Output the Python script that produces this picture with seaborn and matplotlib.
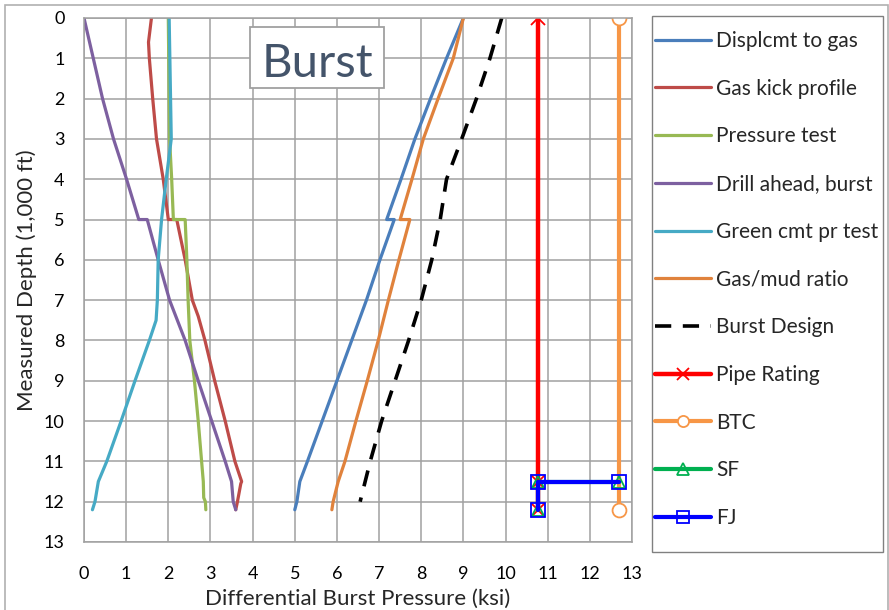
import numpy as np
import pandas as pd
import matplotlib
matplotlib.use('Agg')
import matplotlib.pyplot as plt
from matplotlib.patches import Rectangle
import seaborn as sns

sns.set_style('white')
plt.rcParams['font.family'] = ['Lato', 'DejaVu Sans']

# depth in 1,000 ft, pressure in ksi
displ_depth = [0, 1, 2, 3, 4, 5, 5, 6, 7, 8, 9, 10, 11, 11.5, 12, 12.2]
displ_p = [9.0, 8.6, 8.22, 7.85, 7.52, 7.18, 7.36, 7.02, 6.7, 6.35, 6.0, 5.65, 5.3, 5.12, 5.05, 5.0]

kick_depth = [0, 0.6, 1, 2, 3, 4, 5, 5, 6, 7, 7.4, 8, 9, 10, 11, 11.5, 11.55, 12, 12.2]
kick_p = [1.6, 1.53, 1.55, 1.63, 1.72, 1.88, 2.0, 2.2, 2.4, 2.57, 2.71, 2.87, 3.1, 3.35, 3.58, 3.74, 3.72, 3.64, 3.6]

ptest_depth = [0, 3, 4, 5, 5, 6, 7, 8, 9, 10, 11, 11.5, 11.9, 12, 12.2]
ptest_p = [2.0, 2.03, 2.08, 2.12, 2.4, 2.44, 2.47, 2.51, 2.62, 2.71, 2.79, 2.83, 2.84, 2.88, 2.89]

drill_depth = [0, 1, 2, 3, 4, 5, 5, 6, 7, 8, 9, 10, 11, 11.5, 12, 12.2]
drill_p = [0.0, 0.22, 0.44, 0.7, 1.01, 1.3, 1.5, 1.76, 2.03, 2.4, 2.71, 3.03, 3.35, 3.5, 3.54, 3.6]

green_depth = [0, 3, 4, 5, 6, 7, 7.5, 8, 9, 10, 11, 11.5, 12, 12.2]
green_p = [2.02, 2.07, 1.95, 1.84, 1.76, 1.74, 1.71, 1.55, 1.21, 0.88, 0.54, 0.34, 0.26, 0.2]

gasmud_depth = [0, 1, 2, 3, 4, 5, 5, 6, 7, 8, 9, 10, 11, 11.5, 12, 12.2]
gasmud_p = [9.0, 8.76, 8.4, 8.05, 7.78, 7.5, 7.73, 7.47, 7.22, 6.98, 6.72, 6.45, 6.19, 6.03, 5.91, 5.88]

design_depth = [0, 1, 2, 3, 4, 5, 6, 7, 8, 9, 10, 11, 12]
design_p = [9.91, 9.63, 9.31, 8.96, 8.6, 8.45, 8.25, 8.0, 7.7, 7.38, 7.06, 6.79, 6.55]

rating_depth = [0, 11.5, 12.2]
rating_p = [10.78, 10.78, 10.78]

btc_depth = [0, 12.2]
btc_p = [12.7, 12.7]

sf_depth = [11.5, 11.5, 12.2]
sf_p = [12.7, 10.78, 10.78]

fj_depth = [11.5, 11.5, 12.2]
fj_p = [12.7, 10.78, 10.78]

W, H = 889, 610
fig = plt.figure(figsize=(W / 100, H / 100), dpi=100)
ax = fig.add_axes([84 / W, 68 / H, 548 / W, 524 / H])

curves = [
    ('Displcmt to gas', displ_p, displ_depth, '#4A7EBB'),
    ('Gas kick profile', kick_p, kick_depth, '#BE4B48'),
    ('Pressure test', ptest_p, ptest_depth, '#98B954'),
    ('Drill ahead, burst', drill_p, drill_depth, '#7D60A0'),
    ('Green cmt pr test', green_p, green_depth, '#46AAC5'),
    ('Gas/mud ratio', gasmud_p, gasmud_depth, '#E0823C'),
]
for name, xs, ys, col in curves:
    sns.lineplot(x=xs, y=ys, sort=False, estimator=None, color=col, lw=2.3,
                 label=name, ax=ax)

sns.lineplot(x=design_p, y=design_depth, sort=False, estimator=None, color='black',
             lw=2.6, label='Burst Design', ax=ax)
ax.lines[-1].set_dashes([4.5, 3.2])

sns.lineplot(x=rating_p, y=rating_depth, sort=False, estimator=None, color='#FF0000',
             lw=3.2, marker='x', markersize=10, mec='#FF0000', mew=1.3,
             label='Pipe Rating', ax=ax)
sns.lineplot(x=btc_p, y=btc_depth, sort=False, estimator=None, color='#F79646',
             lw=3, marker='o', markersize=10, mfc='white', mec='#F79646', mew=1.3,
             label='BTC', ax=ax)
sns.lineplot(x=sf_p, y=sf_depth, sort=False, estimator=None, color='#00B050',
             lw=3, marker='^', markersize=9, mfc='none', mec='#00B050', mew=1.3,
             label='SF', ax=ax)
sns.lineplot(x=fj_p, y=fj_depth, sort=False, estimator=None, color='#0000FF',
             lw=3, marker='s', markersize=10, mfc='none', mec='#0000FF', mew=1.3,
             label='FJ', ax=ax)

ax.set_xlim(0, 13)
ax.set_ylim(13, 0)
ax.set_xticks(range(0, 14))
ax.set_yticks(range(0, 14))
ax.grid(True, color='#A0A0A0', lw=1.1)
ax.set_axisbelow(True)
for s in ax.spines.values():
    s.set_color('#A0A0A0')
    s.set_linewidth(1.1)
ax.tick_params(axis='both', labelsize=13, length=5, width=1.1, color='#A0A0A0',
               labelcolor='black')
ax.tick_params(axis='x', pad=12)
ax.tick_params(axis='y', pad=9)
ax.set_xlabel('Differential Burst Pressure (ksi)', fontsize=16, labelpad=5)
ax.set_ylabel('Measured Depth (1,000 ft)', fontsize=16, labelpad=5)

# "Burst" label box
ax.add_patch(Rectangle((3.94, 0.22), 3.18, 1.52, fc='white', ec='#A0A0A0', lw=1.3, zorder=5))
ax.text(5.53, 1.46, 'Burst', fontsize=34, color='#44546A', ha='center', va='baseline',
        zorder=6)

handles, labels = ax.get_legend_handles_labels()
ax.get_legend().remove()
leg = fig.legend(handles, labels, loc='upper left', bbox_to_anchor=(655 / W, 1 - 31 / H),
                 fontsize=15, frameon=False, labelspacing=1.33, handlelength=2.7,
                 handletextpad=0.25, borderpad=0, borderaxespad=0)
for lh in leg.legend_handles:
    lh.set_markersize(8)

# legend frame and outer chart border
fig.patches.append(Rectangle((652 / W, 1 - 552 / H), 231 / W, 536 / H,
                             transform=fig.transFigure, fill=False, ec='#808080', lw=1.0))
fig.patches.append(Rectangle((5 / W, -0.05), 882.5 / W, 1.05 - 5 / H,
                             transform=fig.transFigure, fill=False, ec='#B0B0B0', lw=1.2))

fig.savefig('out.png', dpi=100)
